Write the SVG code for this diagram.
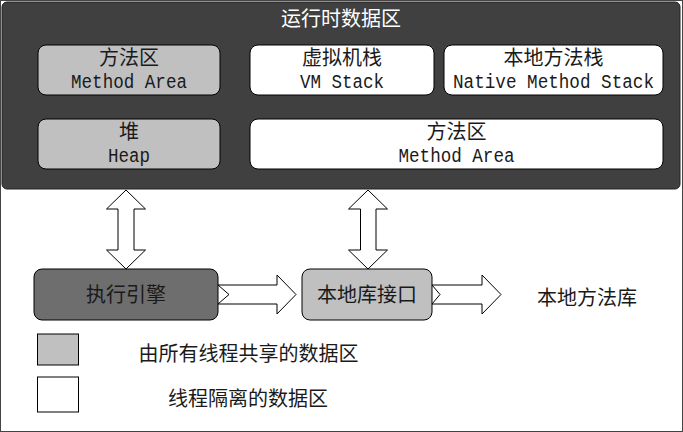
<svg xmlns="http://www.w3.org/2000/svg" width="683" height="432" viewBox="0 0 683 432">
<style>
.cjk{font-family:"Noto Sans CJK SC","Noto Sans CJK JP",sans-serif;font-size:20px;text-anchor:middle;fill:#1a1a1a}
.mono{font-family:"Liberation Mono","DejaVu Sans Mono",monospace;font-size:19.5px;text-anchor:middle;fill:#1a1a1a}
.box{stroke:#000;stroke-width:1}
.shared{fill:#c0c0c0}
.private{fill:#fff}
.arrow{fill:#fff;stroke:#000;stroke-width:1;stroke-linejoin:miter}
</style>
<rect x="0.5" y="0.5" width="682" height="431" fill="#fff" stroke="#444" stroke-width="1"/>
<g id="runtime-data-area">
<rect x="2" y="2" width="678" height="187" rx="5" fill="#404040" stroke="#222" stroke-width="1"/>
<text x="341" y="25.5" class="cjk" style="fill:#fff">运行时数据区</text>
</g>
<g id="method-area-shared">
<rect x="38" y="45" width="182" height="50" rx="8" class="box shared"/>
<text x="129" y="64.5" class="cjk">方法区</text>
<text x="129" y="88" class="mono" textLength="116" lengthAdjust="spacingAndGlyphs">Method Area</text>
</g>
<g id="vm-stack">
<rect x="250" y="45" width="184" height="50" rx="8" class="box private"/>
<text x="342" y="64.5" class="cjk">虚拟机栈</text>
<text x="342" y="88" class="mono" textLength="84" lengthAdjust="spacingAndGlyphs">VM Stack</text>
</g>
<g id="native-method-stack">
<rect x="444" y="45" width="219" height="50" rx="8" class="box private"/>
<text x="553.5" y="64.5" class="cjk">本地方法栈</text>
<text x="553.5" y="88" class="mono" textLength="201" lengthAdjust="spacingAndGlyphs">Native Method Stack</text>
</g>
<g id="heap">
<rect x="38" y="119" width="182" height="50" rx="8" class="box shared"/>
<text x="129" y="138.5" class="cjk">堆</text>
<text x="129" y="162" class="mono" textLength="42" lengthAdjust="spacingAndGlyphs">Heap</text>
</g>
<g id="method-area-private">
<rect x="250" y="119" width="413" height="50" rx="8" class="box private"/>
<text x="456.5" y="138.5" class="cjk">方法区</text>
<text x="456.5" y="162" class="mono" textLength="116" lengthAdjust="spacingAndGlyphs">Method Area</text>
</g>
<g id="execution-engine">
<rect x="34" y="269" width="184" height="51" rx="8" class="box" fill="#6e6e6e"/>
<text x="126" y="302" class="cjk">执行引擎</text>
</g>
<g id="native-interface">
<rect x="302" y="269" width="130" height="51" rx="8" class="box shared"/>
<text x="367" y="302" class="cjk">本地库接口</text>
</g>
<g id="native-library">
<text x="587" y="304.5" class="cjk">本地方法库</text>
</g>
<g id="connectors">
<polygon class="arrow" points="126,190 145.5,209 134,209 134,250 145.5,250 126,269 106.5,250 118,250 118,209 106.5,209"/>
<polygon class="arrow" points="368,190 387.5,209 376,209 376,250 387.5,250 368,269 348.5,250 360.5,250 360.5,209 348.5,209"/>
<polygon class="arrow" points="218,285 277,285 277,275 296,294.5 277,314 277,304 218,304 229,294.5"/>
<polygon class="arrow" points="432,285 482,285 482,275 501,294.5 482,314 482,304 432,304 440,294.5"/>
</g>
<g id="legend">
<rect x="37.5" y="334" width="41" height="31" class="box shared"/>
<text x="248.5" y="360.5" class="cjk">由所有线程共享的数据区</text>
<rect x="37.5" y="377" width="41" height="35" class="box private"/>
<text x="248" y="405.5" class="cjk">线程隔离的数据区</text>
</g>
</svg>
